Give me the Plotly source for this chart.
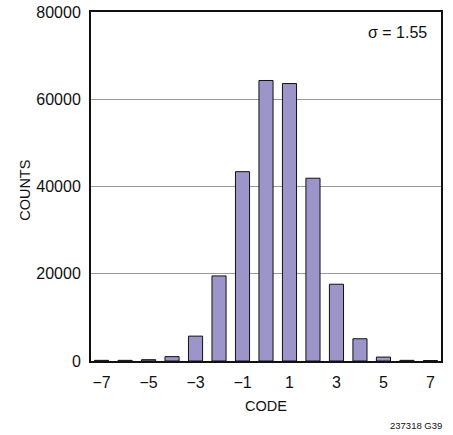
import plotly.graph_objects as go

codes = [-7, -6, -5, -4, -3, -2, -1, 0, 1, 2, 3, 4, 5, 6, 7]
counts = [150, 150, 300, 1000, 5700, 19500, 43400, 64300, 63600, 41900, 17600, 5100, 900, 150, 100]
x_tick_vals = [-7, -5, -3, -1, 1, 3, 5, 7]
x_tick_text = ["\u22127", "\u22125", "\u22123", "\u22121", "1", "3", "5", "7"]
y_tick_vals = [0, 20000, 40000, 60000, 80000]
y_tick_text = ["0", "20000", "40000", "60000", "80000"]

FONT = "Liberation Sans, Arial, sans-serif"
FS = 16

fig = go.Figure()
fig.add_trace(go.Bar(
    x=codes, y=counts, width=0.6,
    marker=dict(color="#9C95C9", line=dict(color="#111111", width=1)),
))

fig.update_layout(
    width=453, height=435,
    margin=dict(l=91, r=12, t=11.5, b=73.5, autoexpand=False),
    paper_bgcolor="white", plot_bgcolor="white",
    showlegend=False,
    font=dict(family=FONT, size=FS, color="#111111"),
    bargap=0,
)
fig.update_xaxes(
    range=[-7.45, 7.45], tickvals=x_tick_vals, ticktext=x_tick_text,
    showgrid=False, zeroline=False, automargin=False,
    showline=True, linecolor="#111111", linewidth=2, mirror=True,
    ticks="", ticklabelstandoff=6,
)
fig.update_yaxes(
    range=[0, 80000], tickvals=y_tick_vals, ticktext=y_tick_text,
    showgrid=True, gridcolor="#9a9a9a", gridwidth=1.3, zeroline=False, automargin=False,
    showline=True, linecolor="#111111", linewidth=2, mirror=True,
    ticks="", ticklabelstandoff=5, ticklabeloverflow="allow",
)
fig.add_annotation(
    text="CODE", xref="paper", yref="paper", x=0.5, y=-0.13,
    xanchor="center", yanchor="middle", showarrow=False,
    font=dict(family=FONT, size=14.5, color="#111111"),
)
fig.add_annotation(
    text="COUNTS", xref="paper", yref="paper", x=-0.189, y=0.49, textangle=-90,
    xanchor="center", yanchor="middle", showarrow=False,
    font=dict(family=FONT, size=14.5, color="#111111"),
)
fig.add_annotation(
    text="\u03c3 = 1.55", xref="paper", yref="paper", x=0.965, y=0.941,
    xanchor="right", yanchor="middle", showarrow=False,
    font=dict(family=FONT, size=FS, color="#111111"),
)
fig.add_annotation(
    text="237318 G39", xref="paper", yref="paper", x=1.008, y=-0.184,
    xanchor="right", yanchor="middle", showarrow=False,
    font=dict(family=FONT, size=9.5, color="#111111"),
)

# remove the browser's default 8px body margin so the figure fills the window
fig.write_html(
    "out.html",
    config={"displayModeBar": False, "staticPlot": True},
    post_script="document.body.style.margin='0';",
)
